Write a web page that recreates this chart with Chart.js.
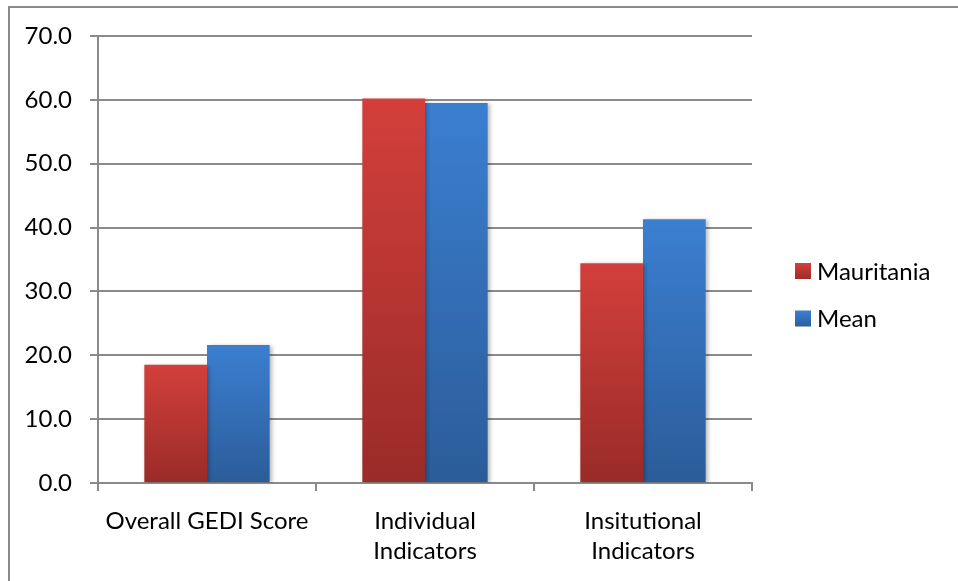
<!DOCTYPE html>
<html>
<head>
<meta charset="utf-8">
<script src="https://cdn.jsdelivr.net/npm/chart.js@4/dist/chart.umd.min.js"></script>
<style>
html,body{margin:0;padding:0;background:#fff;}
#wrap{position:relative;width:958px;height:581px;}
</style>
</head>
<body>
<div id="wrap"><canvas id="c" width="958" height="581"></canvas></div>
<script>
const categories = ["Overall GEDI Score", ["Individual", "Indicators"], ["Insitutional", "Indicators"]];
const seriesNames = ["Mauritania", "Mean"];
const mauritania = [18.5, 60.2, 34.4];
const mean = [21.6, 59.5, 41.3];
const yTicks = [0, 10, 20, 30, 40, 50, 60, 70];

const FONT = "Lato, 'Liberation Sans', sans-serif";
const FSIZE = 24;
const palettes = [
  {top: "#D33F3B", bottom: "#992B28", swatchTop: "#D43F3B", swatchBottom: "#9E2C29"},
  {top: "#3B7FD1", bottom: "#2B5C99", swatchTop: "#3D80D2", swatchBottom: "#2C5E9C"}
];

function barGradient(pal) {
  return function(ctx) {
    const chart = ctx.chart;
    if (!chart.chartArea || ctx.raw === undefined) return pal.top;
    const y = chart.scales.y.getPixelForValue(ctx.raw);
    const base = chart.scales.y.getPixelForValue(0);
    const g = chart.ctx.createLinearGradient(0, y, 0, base);
    g.addColorStop(0, pal.top);
    g.addColorStop(1, pal.bottom);
    return g;
  };
}

const framePlugin = {
  id: "frame",
  beforeDraw(chart) {
    const c = chart.ctx;
    c.save();
    c.fillStyle = "#fff";
    c.fillRect(0, 0, chart.width, chart.height);
    c.strokeStyle = "#8a8a8a";
    c.lineWidth = 2;
    c.beginPath();
    c.moveTo(9, chart.height + 5);
    c.lineTo(9, 7);
    c.lineTo(chart.width + 5, 7);
    c.stroke();
    c.restore();
  }
};

const shadowPlugin = {
  id: "barShadow",
  beforeDatasetsDraw(chart) {
    const c = chart.ctx;
    c.save();
    c.shadowColor = "rgba(0,0,0,0.28)";
    c.shadowBlur = 4;
    c.shadowOffsetX = 2;
    c.shadowOffsetY = 1;
  },
  afterDatasetsDraw(chart) {
    chart.ctx.restore();
  }
};

const legendPlugin = {
  id: "customLegend",
  afterDraw(chart) {
    const c = chart.ctx;
    c.save();
    const x0 = 795, y0 = 263, gap = 47.5, box = 16;
    chart.data.datasets.forEach((ds, i) => {
      const y = y0 + i * gap;
      const pal = palettes[i];
      const g = c.createLinearGradient(0, y, 0, y + box);
      g.addColorStop(0, pal.swatchTop);
      g.addColorStop(1, pal.swatchBottom);
      c.fillStyle = g;
      c.fillRect(x0, y, box, box);
      c.fillStyle = "#000";
      c.font = FSIZE + "px " + FONT;
      c.textBaseline = "middle";
      c.textAlign = "left";
      c.fillText(ds.label, x0 + 22, y + box / 2 + 1);
    });
    c.restore();
  }
};

new Chart(document.getElementById("c"), {
  type: "bar",
  data: {
    labels: categories,
    datasets: [
      {label: seriesNames[0], data: mauritania, backgroundColor: barGradient(palettes[0])},
      {label: seriesNames[1], data: mean, backgroundColor: barGradient(palettes[1])}
    ]
  },
  options: {
    responsive: false,
    animation: false,
    devicePixelRatio: 1,
    layout: {padding: {left: 0, top: 36, right: 206, bottom: 0}},
    datasets: {bar: {categoryPercentage: 0.575, barPercentage: 1.0, borderWidth: 0}},
    plugins: {legend: {display: false}, tooltip: {enabled: false}},
    scales: {
      x: {
        offset: true,
        grid: {display: true, offset: true, drawOnChartArea: false, drawTicks: true, tickLength: 8, color: "#8a8a8a", lineWidth: 2},
        border: {display: true, color: "#8a8a8a", width: 2},
        ticks: {color: "#000", font: {family: FONT, size: FSIZE, lineHeight: 1.25}, padding: 15, maxRotation: 0, autoSkip: false},
        afterFit(scale) { scale.height = 98; }
      },
      y: {
        min: 0, max: 70,
        afterBuildTicks(scale) { scale.ticks = yTicks.map(v => ({value: v})); },
        grid: {color: "#8a8a8a", lineWidth: 2, drawTicks: true, tickLength: 8},
        border: {display: true, color: "#8a8a8a", width: 2},
        ticks: {color: "#000", font: {family: FONT, size: FSIZE}, padding: 18, callback: v => Number(v).toFixed(1)},
        afterFit(scale) { scale.width = 98; }
      }
    }
  },
  plugins: [framePlugin, shadowPlugin, legendPlugin]
});
</script>
</body>
</html>
